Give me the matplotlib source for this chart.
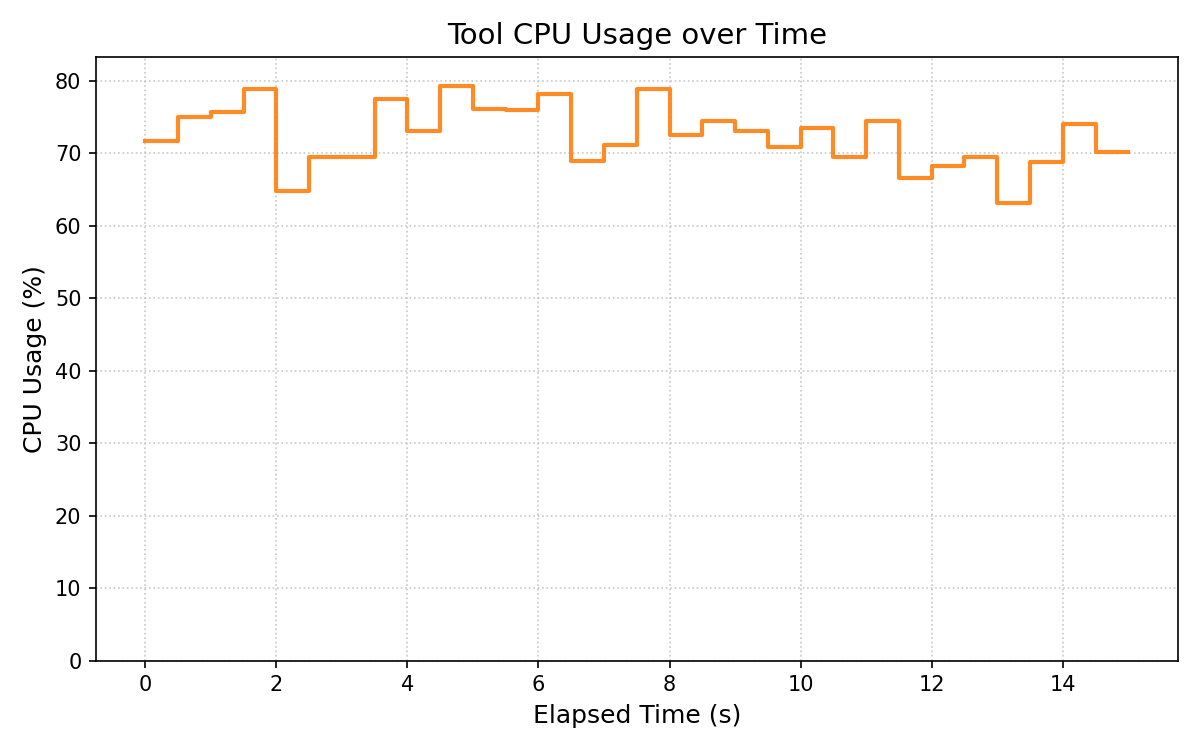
import numpy as np
import matplotlib.pyplot as plt

# elapsed time (s) and CPU usage (%)
time_s = np.arange(0, 15.5, 0.5)
cpu_pct = [71.7, 75.0, 75.7, 78.8, 64.8, 69.5, 69.5, 77.5, 73.1, 79.3,
           76.1, 76.0, 78.2, 68.9, 71.1, 78.8, 72.5, 74.5, 73.1, 70.9,
           73.5, 69.5, 74.5, 66.6, 68.2, 69.5, 63.1, 68.8, 74.0, 70.2,
           70.2]

fig, ax = plt.subplots(figsize=(8, 5), dpi=150)
ax.step(time_s, cpu_pct, where='post', color='#ff7f0e', alpha=0.9, linewidth=2)
ax.set_ylim(0, max(cpu_pct) * 1.05)
ax.set_title("Tool CPU Usage over Time", fontsize=14)
ax.set_xlabel("Elapsed Time (s)", fontsize=12)
ax.set_ylabel("CPU Usage (%)", fontsize=12)
ax.grid(True, linestyle=':', color='#bbbbbb', alpha=0.8)
plt.tight_layout()
plt.savefig("out.png")
